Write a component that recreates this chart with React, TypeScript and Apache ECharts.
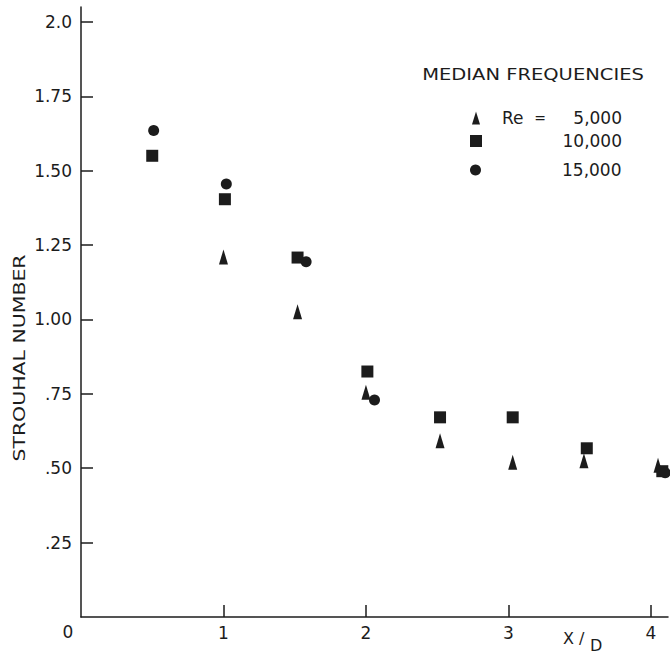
import React, { useEffect, useRef } from 'react';
import * as echarts from 'echarts';

// Strouhal number vs X/D, median frequencies
const re5000: [number, number][] = [
  [1.0, 1.21], [1.52, 1.026], [2.0, 0.755], [2.52, 0.592], [3.03, 0.52], [3.53, 0.525], [4.05, 0.51],
];
const re10000: [number, number][] = [
  [0.5, 1.55], [1.01, 1.404], [1.52, 1.208], [2.01, 0.825], [2.52, 0.671], [3.03, 0.671], [3.55, 0.567], [4.08, 0.49],
];
const re15000: [number, number][] = [
  [0.51, 1.635], [1.02, 1.455], [1.58, 1.194], [2.06, 0.729], [4.1, 0.485],
];
const seriesNames = ['5,000', '10,000', '15,000'];
const yTickValues = [0.25, 0.5, 0.75, 1.0, 1.25, 1.5, 1.75, 2.0];
const yTickLabels = ['.25', '.50', '.75', '1.00', '1.25', '1.50', '1.75', '2.0'];
const xTickValues = [1, 2, 3, 4];
const xTickLabels = ['1', '2', '3', '4'];

const FONT = 'DejaVu Sans';
const INK = '#1c1c1c';
const TRI = 'path://M5,0 L10,16 L0,16 Z';

export default function App() {
  const ref = useRef<HTMLDivElement>(null);
  useEffect(() => {
    if (!ref.current) return;
    const chart = echarts.init(ref.current, null, { renderer: 'svg' });
    const legendText = (w: number) => ({
      fontFamily: FONT,
      fontSize: 17,
      color: INK,
      lineHeight: 18,
      rich: {
        s: { width: w, fontSize: 17, fontFamily: FONT },
        re: { width: 28, fontSize: 17, fontFamily: FONT, color: INK },
        eq: { width: 20, align: 'center', fontSize: 14, fontFamily: FONT, color: INK },
        v: { width: 72, align: 'right', fontSize: 17, fontFamily: FONT, color: INK },
        p: { width: 65, fontSize: 17, fontFamily: FONT },
        w: { width: 70, align: 'right', fontSize: 17, fontFamily: FONT, color: INK },
      },
    });
    const option: any = {
      animation: false,
      backgroundColor: '#ffffff',
      grid: { left: 81, right: 2, top: 7, bottom: 41, outerBoundsMode: 'none' },
      xAxis: {
        type: 'value',
        min: 0,
        max: 4.12,
        interval: 1,
        splitLine: { show: false },
        axisLine: { show: true, lineStyle: { color: INK, width: 1.5 } },
        axisTick: { show: true, inside: true, length: 12, lineStyle: { color: INK, width: 1.5 }, customValues: xTickValues },
        axisLabel: {
          customValues: xTickValues,
          margin: 7,
          fontFamily: FONT,
          fontSize: 17,
          color: INK,
          formatter: (v: number) => xTickLabels[xTickValues.indexOf(v)] ?? '',
        },
      },
      yAxis: {
        type: 'value',
        min: 0,
        max: 2.05,
        interval: 0.25,
        splitLine: { show: false },
        axisLine: { show: true, lineStyle: { color: INK, width: 1.5 } },
        axisTick: { show: true, inside: true, length: 12, lineStyle: { color: INK, width: 1.5 }, customValues: yTickValues },
        axisLabel: {
          customValues: yTickValues,
          margin: 9,
          fontFamily: FONT,
          fontSize: 17,
          color: INK,
          formatter: (v: number) => {
            const i = yTickValues.findIndex((t) => Math.abs(t - v) < 1e-6);
            return i >= 0 ? yTickLabels[i] : '';
          },
        },
      },
      legend: [
        {
          data: [seriesNames[0]], left: 472, top: 109, padding: 0, itemWidth: 8, itemHeight: 14, selectedMode: false,
          icon: TRI,
          textStyle: legendText(17),
          formatter: (n: string) => `{s| }{re|Re}{eq|=}{v|${n}}`,
        },
        {
          data: [seriesNames[1]], left: 470, top: 132, padding: 0, itemWidth: 12, itemHeight: 12, selectedMode: false,
          textStyle: legendText(0),
          formatter: (n: string) => `{p| }{w|${n}}`,
        },
        {
          data: [seriesNames[2]], left: 470, top: 161, padding: 0, itemWidth: 12, itemHeight: 11, selectedMode: false,
          textStyle: legendText(0),
          formatter: (n: string) => `{p| }{w|${n}}`,
        },
      ],
      series: [
        { name: seriesNames[0], type: 'scatter', symbol: TRI, symbolSize: [9, 15], itemStyle: { color: INK, opacity: 1 }, data: re5000 },
        { name: seriesNames[1], type: 'scatter', symbol: 'rect', symbolSize: 12, itemStyle: { color: INK, opacity: 1 }, data: re10000 },
        { name: seriesNames[2], type: 'scatter', symbol: 'circle', symbolSize: 11, itemStyle: { color: INK, opacity: 1 }, data: re15000 },
      ],
      graphic: [
        {
          type: 'text', x: 533, y: 74, scaleX: 1.22,
          style: { text: 'MEDIAN FREQUENCIES', fontFamily: FONT, fontSize: 16, fill: INK, align: 'center', verticalAlign: 'middle' },
        },
        {
          type: 'text', x: 19, y: 358, rotation: Math.PI / 2, scaleX: 1.28,
          style: { text: 'STROUHAL NUMBER', fontFamily: FONT, fontSize: 16, fill: INK, align: 'center', verticalAlign: 'middle' },
        },
        {
          type: 'text', x: 68, y: 632,
          style: { text: '0', fontFamily: FONT, fontSize: 17, fill: INK, align: 'center', verticalAlign: 'middle' },
        },
        {
          type: 'text', x: 563, y: 638,
          style: { text: 'X /', fontFamily: FONT, fontSize: 16, fill: INK, align: 'left', verticalAlign: 'middle' },
        },
        {
          type: 'text', x: 590, y: 645,
          style: { text: 'D', fontFamily: FONT, fontSize: 16, fill: INK, align: 'left', verticalAlign: 'middle' },
        },
      ],
    };
    chart.setOption(option);
    return () => chart.dispose();
  }, []);
  return <div ref={ref} style={{ position: 'fixed', left: 0, top: 0, width: 670, height: 658, background: '#fff' }} />;
}
